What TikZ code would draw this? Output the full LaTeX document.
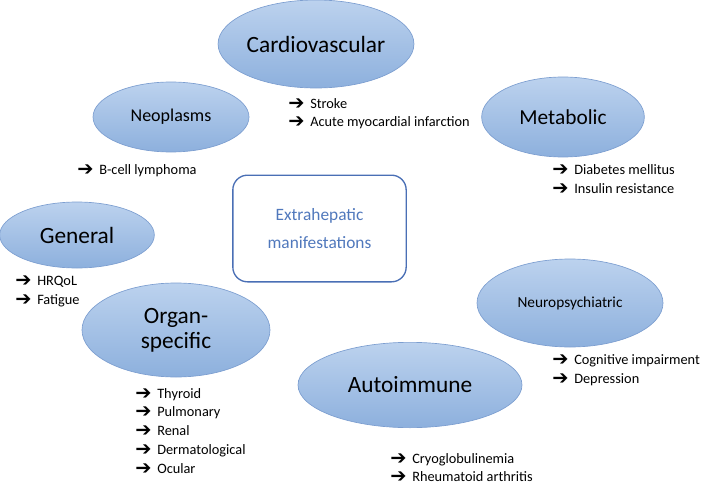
\documentclass[tikz,border=0pt]{standalone}
\usepackage{fontspec}
\setmainfont{Carlito}
\newfontfamily\arrowfont{DejaVu Sans}
\usetikzlibrary{shapes.geometric, positioning}
\definecolor{blobtop}{HTML}{BCD2EE}
\definecolor{blobbottom}{HTML}{8DB0DD}
\definecolor{blobedge}{HTML}{7C9ED0}
\definecolor{boxedge}{HTML}{4A6FB5}
\definecolor{boxtext}{HTML}{5078BC}

\tikzset{
  blob/.style={ellipse, draw=blobedge, line width=0.5pt, top color=blobtop, bottom color=blobbottom, inner sep=0pt, align=center, text=black},
  bigblob/.style={blob, font=\fontsize{17.5}{21}\selectfont},
  listitem/.style={anchor=west, inner sep=0pt, text height=7pt, text depth=2pt, font=\fontsize{10.75}{12}\selectfont}
}
\newcommand{\arr}{\makebox[16.5pt][l]{\raisebox{-0.6pt}{\arrowfont\bfseries\fontsize{14.5}{14.5}\selectfont ➔}}}

\begin{document}
\begin{tikzpicture}[x=0.75pt, y=-0.75pt]
  \useasboundingbox (0,0) rectangle (702,485);

  % Central box
  \node[draw=boxedge, line width=1pt, rounded corners=11pt, minimum width=130pt, minimum height=80pt,
        text=boxtext, align=center, font=\fontsize{13}{21.5}\selectfont] (center) at (319.5,228.5)
        {Extrahepatic\\manifestations};

  % Categories
  \node[bigblob, minimum width=144pt, minimum height=66pt] (cardio) at (316,44) {Cardiovascular};
  \node[blob, minimum width=117pt, minimum height=52.5pt, font=\fontsize{13.5}{16}\selectfont] (neo) at (171,117) {Neoplasms};
  \node[blob, minimum width=122pt, minimum height=60pt, font=\fontsize{16}{19}\selectfont] (meta) at (563,117) {Metabolic};
  \node[bigblob, minimum width=116pt, minimum height=49.5pt] (general) at (77,235) {General};
  \node[bigblob, minimum width=141pt, minimum height=70.5pt, font=\fontsize{17.5}{19}\selectfont] (organ) at (176,330) {Organ-\\specific};
  \node[blob, minimum width=139.5pt, minimum height=66pt, font=\fontsize{11.5}{14}\selectfont] (neuro) at (570,303) {Neuropsychiatric};
  \node[bigblob, minimum width=168pt, minimum height=64pt] (auto) at (410,385) {Autoimmune};

  % Cardiovascular items
  \node[listitem] (cardio1) at (288,105) {\arr Stroke};
  \node[listitem] (cardio2) at (288,123) {\arr Acute myocardial infarction};

  % Neoplasms items
  \node[listitem] (neo1) at (77,171) {\arr B-cell lymphoma};

  % Metabolic items
  \node[listitem] (meta1) at (552,171) {\arr Diabetes mellitus};
  \node[listitem] (meta2) at (552,190) {\arr Insulin resistance};

  % General items
  \node[listitem] (general1) at (15,282) {\arr HRQoL};
  \node[listitem] (general2) at (15,301) {\arr Fatigue};

  % Organ-specific items
  \node[listitem] (organ1) at (135,395) {\arr Thyroid};
  \node[listitem] (organ2) at (135,413) {\arr Pulmonary};
  \node[listitem] (organ3) at (135,432) {\arr Renal};
  \node[listitem] (organ4) at (135,451) {\arr Dermatological};
  \node[listitem] (organ5) at (135,470) {\arr Ocular};

  % Neuropsychiatric items
  \node[listitem] (neuro1) at (552,361) {\arr Cognitive impairment};
  \node[listitem] (neuro2) at (552,380) {\arr Depression};

  % Autoimmune items
  \node[listitem] (auto1) at (390,460) {\arr Cryoglobulinemia};
  \node[listitem] (auto2) at (390,478) {\arr Rheumatoid arthritis};
\end{tikzpicture}
\end{document}
